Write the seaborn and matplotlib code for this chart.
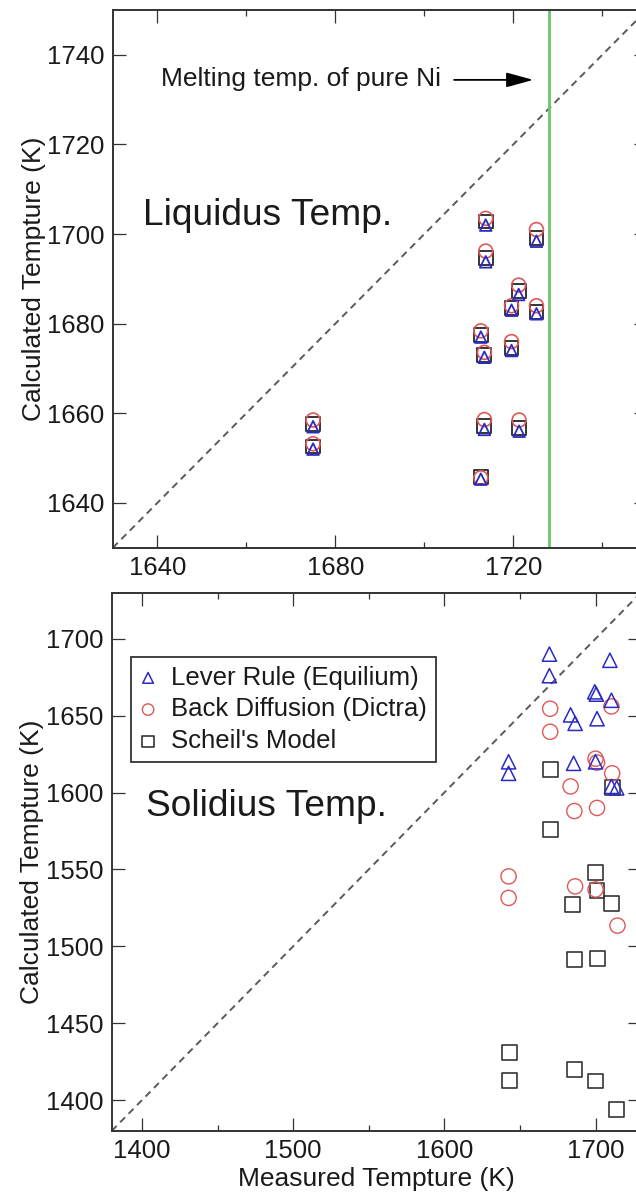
import matplotlib
matplotlib.use("Agg")
import matplotlib.pyplot as plt
import pandas as pd
import seaborn as sns

# ---------------- Liquidus temperatures (K) ----------------
liq_measured = [1675.0, 1675.0, 1713.8, 1713.8, 1712.7, 1713.5, 1713.5,
                1712.7, 1719.6, 1719.6, 1721.2, 1721.3, 1725.2, 1725.2]
liq_lever = [1657.0, 1652.0, 1702.0, 1693.8, 1677.0, 1672.5, 1656.4,
             1645.3, 1683.0, 1674.0, 1686.5, 1656.0, 1698.4, 1682.2]
liq_dictra = [1658.5, 1653.2, 1703.5, 1696.2, 1678.4, 1673.6, 1658.6,
              1645.6, 1684.0, 1676.0, 1688.6, 1658.5, 1701.0, 1684.0]
liq_scheil = [1657.7, 1652.6, 1702.8, 1694.7, 1677.5, 1673.1, 1657.1,
              1645.7, 1683.5, 1674.6, 1687.2, 1656.7, 1699.1, 1682.7]

# ---------------- Solidus temperatures (K) ----------------
sol_lever_measured = [1642.5, 1642.5, 1669.5, 1669.5, 1683.5, 1686.5, 1685.5, 1699.5,
                      1700.5, 1701.0, 1700.0, 1709.5, 1710.5, 1710.5, 1714.0]
sol_lever = [1620.0, 1612.5, 1690.0, 1676.0, 1650.5, 1645.0, 1619.0, 1665.5,
             1664.0, 1648.0, 1620.0, 1686.0, 1660.0, 1604.0, 1603.0]

sol_dictra_measured = [1642.5, 1642.5, 1670.0, 1670.0, 1683.5, 1686.0, 1686.5,
                       1700.0, 1701.0, 1701.0, 1700.0, 1710.5, 1711.0, 1714.5]
sol_dictra = [1545.5, 1531.5, 1654.5, 1639.5, 1604.0, 1588.0, 1539.0,
              1622.0, 1619.5, 1590.0, 1537.0, 1656.0, 1612.5, 1513.5]

sol_scheil_measured = [1643.0, 1643.0, 1670.5, 1670.5, 1685.0, 1686.0, 1686.0,
                       1700.0, 1701.0, 1701.5, 1700.0, 1711.0, 1710.5, 1714.0]
sol_scheil = [1431.0, 1413.0, 1615.0, 1576.0, 1527.0, 1491.5, 1420.0,
              1548.0, 1536.5, 1492.0, 1412.5, 1603.0, 1528.0, 1394.0]

NI_MELT = 1728.0  # melting point of pure Ni (K)

model_labels = ["Lever Rule (Equilium)", "Back Diffusion (Dictra)", "Scheil's Model"]
model_markers = ["^", "o", "s"]
model_colors = ["#2a2ac4", "#e05858", "#353535"]

# axis ranges and ticks
liq_xlim, liq_ylim = (1630, 1750), (1630, 1750)
liq_xmajor, liq_xminor = [1640, 1680, 1720], [1660, 1700, 1740]
liq_ymajor = [1640, 1660, 1680, 1700, 1720, 1740]

sol_xlim, sol_ylim = (1380, 1730), (1380, 1730)
sol_xmajor, sol_xminor = [1400, 1500, 1600, 1700], [1450, 1550, 1650]
sol_ymajor = [1400, 1450, 1500, 1550, 1600, 1650, 1700]

sns.set_theme(style="ticks")
plt.rcParams["font.family"] = ["Liberation Sans", "DejaVu Sans"]
plt.rcParams["text.color"] = "#1a1a1a"
plt.rcParams["axes.labelcolor"] = "#1a1a1a"

SPINE = "#333333"
TEXT = "#1a1a1a"

fig = plt.figure(figsize=(6.36, 12.03), dpi=100)
ax_top = fig.add_axes([0.1774, 0.5447, 0.8396, 0.4470])
ax_bot = fig.add_axes([0.1756, 0.0599, 0.8321, 0.4475])


def style_axes(ax, xlim, ylim, xmajor, xminor, ymajor):
    ax.set_xlim(*xlim)
    ax.set_ylim(*ylim)
    ax.set_xticks(xmajor)
    ax.set_xticks(xminor, minor=True)
    ax.set_yticks(ymajor)
    ax.tick_params(which="both", direction="in", top=True, right=True,
                   color=SPINE, labelcolor=TEXT)
    ax.tick_params(which="major", length=9.4, width=0.9, labelsize=18.5, pad=6)
    ax.tick_params(which="minor", length=4.3, width=0.9)
    for sp in ax.spines.values():
        sp.set_linewidth(1.4)
        sp.set_color(SPINE)
    # y = x reference line
    ax.axline((0, 0), slope=1, color="#5a5a5a", lw=1.4,
              linestyle=(0, (3.6, 2.6)), zorder=1)


def draw_series(ax, measured, calculated, k, size, lw):
    df = pd.DataFrame({"measured": measured, "calculated": calculated})
    sns.scatterplot(data=df, x="measured", y="calculated", ax=ax,
                    marker=model_markers[k], s=size, color=model_colors[k],
                    facecolors="none", edgecolor=model_colors[k],
                    linewidth=lw, label=model_labels[k], zorder=3, legend=False)


# ---------------- top: liquidus ----------------
style_axes(ax_top, liq_xlim, liq_ylim, liq_xmajor, liq_xminor, liq_ymajor)
ax_top.axvline(NI_MELT, color="#6cc46c", lw=2.0, zorder=2)
draw_series(ax_top, liq_measured, liq_scheil, 2, 100, 1.4)
draw_series(ax_top, liq_measured, liq_dictra, 1, 100, 1.2)
draw_series(ax_top, liq_measured, liq_lever, 0, 70, 1.3)

ax_top.text(1640.9, 1734.6, "Melting temp. of pure Ni", fontsize=19,
            ha="left", va="center", color=TEXT)
ax_top.annotate("", xy=(1724.5, 1734.4), xytext=(1706.7, 1734.4),
                arrowprops=dict(arrowstyle="-|>,head_length=1.1,head_width=0.3",
                                mutation_scale=15, color="black", lw=1.3,
                                shrinkA=0, shrinkB=0))
ax_top.text(1636.7, 1702.1, "Liquidus Temp.", fontsize=26.7,
            ha="left", va="baseline", color=TEXT)
ax_top.set_xlabel("")
ax_top.set_ylabel("Calculated Tempture (K)", fontsize=19, labelpad=1)

# ---------------- bottom: solidus ----------------
style_axes(ax_bot, sol_xlim, sol_ylim, sol_xmajor, sol_xminor, sol_ymajor)
draw_series(ax_bot, sol_scheil_measured, sol_scheil, 2, 115, 1.2)
draw_series(ax_bot, sol_dictra_measured, sol_dictra, 1, 120, 1.0)
draw_series(ax_bot, sol_lever_measured, sol_lever, 0, 105, 1.1)

ax_bot.text(1402.7, 1584.5, "Solidius Temp.", fontsize=26.7,
            ha="left", va="baseline", color=TEXT)
ax_bot.set_xlabel("Measured Tempture (K)", fontsize=19, labelpad=3)
ax_bot.set_ylabel("Calculated Tempture (K)", fontsize=19, labelpad=1)

handles, labels = ax_bot.get_legend_handles_labels()
order = [labels.index(lbl) for lbl in model_labels]
leg = ax_bot.legend([handles[i] for i in order], [labels[i] for i in order],
                    loc="upper left", bbox_to_anchor=(0.0365, 0.8806),
                    borderaxespad=0, fontsize=18.5, frameon=True, fancybox=False,
                    edgecolor=SPINE, framealpha=1, borderpad=0.34,
                    labelspacing=0.3, handlelength=0.65, handletextpad=0.58,
                    markerscale=0.75)
leg.get_frame().set_linewidth(1.3)

fig.savefig("out.png", dpi=100)
